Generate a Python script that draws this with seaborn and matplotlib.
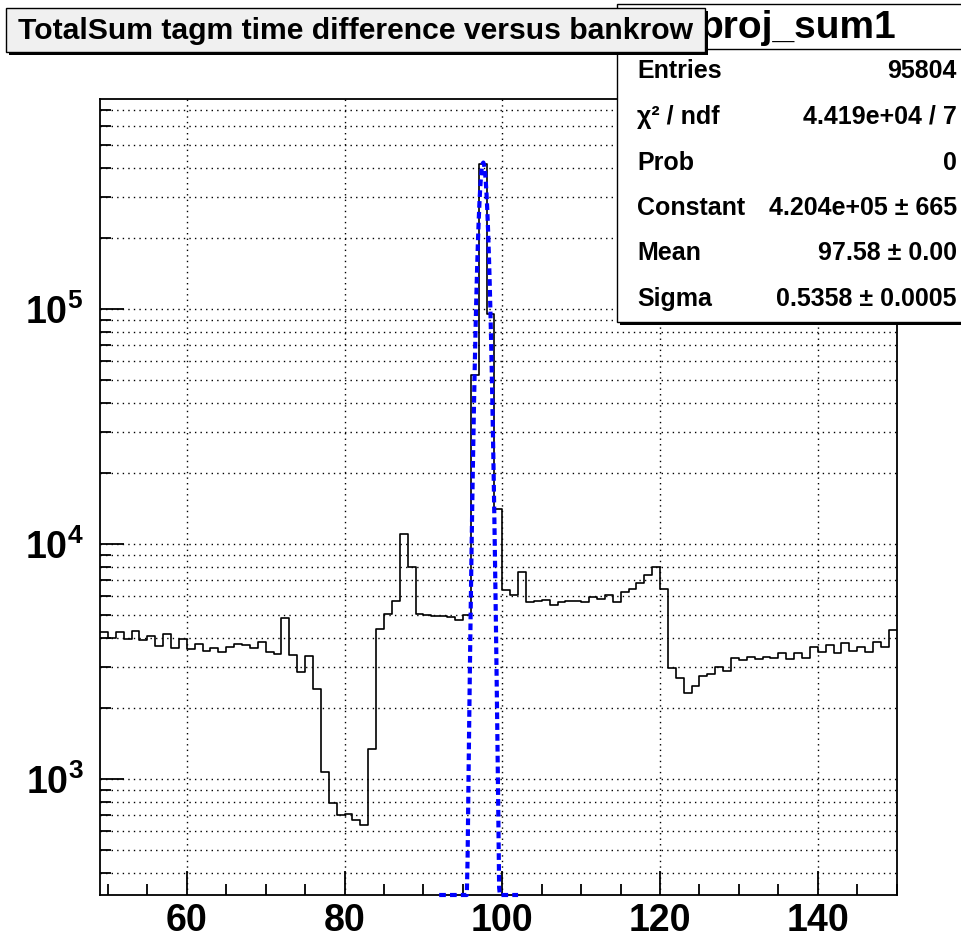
import matplotlib
matplotlib.use("Agg")
import matplotlib.pyplot as plt
from matplotlib.patches import Rectangle
from matplotlib.lines import Line2D
from matplotlib.ticker import LogLocator, MultipleLocator, FuncFormatter, NullFormatter
import numpy as np
import pandas as pd
import seaborn as sns

# histogram proj_sum1: 1-unit bins from 49 to 150
bin_low, bin_high = 49, 150
counts = [4240, 3980, 4240, 3930, 4280, 3900, 4060, 3690, 4140, 3600,
          3950, 3570, 3740, 3520, 3600, 3480, 3660, 3750, 3720, 3600,
          3820, 3460, 3400, 4850, 3370, 2860, 3350, 2410, 1070, 790,
          700, 710, 670, 640, 1340, 4350, 5040, 5700, 11000, 7950,
          5020, 4980, 4940, 4920, 4900, 4760, 4980, 52400, 413000, 95200,
          14100, 6350, 6080, 7610, 5640, 5720, 5780, 5500, 5690, 5700,
          5750, 5650, 5930, 5820, 6070, 5680, 6220, 6410, 6800, 7390,
          8000, 6410, 2980, 2680, 2330, 2490, 2740, 2800, 3010, 2890,
          3270, 3210, 3320, 3230, 3320, 3270, 3450, 3230, 3450, 3280,
          3630, 3460, 3720, 3430, 3780, 3520, 3660, 3460, 3820, 3660,
          4310]

# gaus fit shown in the stats box
fit_const, fit_mean, fit_sigma = 4.204e5, 97.58, 0.5358
fit_range = (92, 102)

stat_labels = ["Entries", "\u03c7\u00b2 / ndf", "Prob", "Constant", "Mean", "Sigma"]
stat_values = ["95804", "4.419e+04 / 7", "0", "4.204e+05 \u00b1 665",
               "97.58 \u00b1 0.00", "0.5358 \u00b1 0.0005"]
title = "TotalSum tagm time difference versus bankrow"
hist_name = "proj_sum1"

sns.set_theme(style="white")
plt.rcParams['font.family'] = ['Liberation Sans', 'DejaVu Sans']
plt.rcParams['font.weight'] = 'bold'
plt.rcParams['text.color'] = 'black'
plt.rcParams['mathtext.fontset'] = 'custom'
plt.rcParams['mathtext.rm'] = 'Liberation Sans:bold'
plt.rcParams['mathtext.bf'] = 'Liberation Sans:bold'

W, H = 962, 938
fig = plt.figure(figsize=(W / 100, H / 100), dpi=100, facecolor='white')
ax = fig.add_axes([100 / W, 1 - 895 / H, 796.7 / W, 796 / H])

df = pd.DataFrame({'x': np.arange(bin_low, bin_high) + 0.5, 'n': counts})
sns.histplot(data=df, x='x', weights='n', binwidth=1, binrange=(bin_low, bin_high),
             element='step', fill=False, color='black', linewidth=1.2, ax=ax)

ymin, ymax = 321, 7.83e5
xf = np.linspace(fit_range[0], fit_range[1], 101)
yf = fit_const * np.exp(-0.5 * ((xf - fit_mean) / fit_sigma) ** 2)
sns.lineplot(x=xf, y=np.clip(yf, ymin, None), ax=ax, color='blue', linewidth=3,
             linestyle=(0, (1.6, 1.0)), clip_on=False, zorder=5)

ax.set_yscale('log')
ax.set_xlim(bin_low, bin_high)
ax.set_ylim(ymin, ymax)
ax.set_xlabel('')
ax.set_ylabel('')

ax.xaxis.set_major_locator(MultipleLocator(20))
ax.xaxis.set_minor_locator(MultipleLocator(5))
ax.yaxis.set_major_locator(LogLocator(base=10))
ax.yaxis.set_minor_locator(LogLocator(base=10, subs=np.arange(2, 10)))
ax.yaxis.set_minor_formatter(NullFormatter())
ax.yaxis.set_major_formatter(FuncFormatter(lambda v, p: r'$\mathbf{10^{%d}}$' % round(np.log10(v))))

ax.grid(True, which='major', axis='both', color='black', linestyle=(0, (1, 3)), linewidth=1)
ax.grid(True, which='minor', axis='y', color='black', linestyle=(0, (1, 3)), linewidth=1)

ax.tick_params(axis='both', which='both', direction='in', top=False, right=False,
               bottom=True, left=True, colors='black', width=1.3)
ax.tick_params(axis='both', which='major', length=17, labelsize=27)
ax.tick_params(axis='both', which='minor', length=8)
ax.tick_params(axis='x', which='major', pad=6)
ax.tick_params(axis='y', which='major', pad=12)
for lab in ax.get_xticklabels():
    lab.set_fontweight('bold')
for sp in ax.spines.values():
    sp.set_color('black')
    sp.set_linewidth(1.3)


def box(x0, y0, x1, y1, **kw):
    fig.add_artist(Rectangle((x0 / W, 1 - y1 / H), (x1 - x0) / W, (y1 - y0) / H,
                             transform=fig.transFigure, **kw))


# stats box
box(620, 7, 972, 325, facecolor='black', edgecolor='none', zorder=4)
box(617, 4, 969, 322, facecolor='white', edgecolor='black', linewidth=1, zorder=5)
fig.add_artist(Line2D([617 / W, 1], [1 - 49 / H, 1 - 49 / H], transform=fig.transFigure,
                      color='black', linewidth=1, zorder=6))
fig.text(798 / W, 1 - 28 / H, hist_name, ha='center', va='center', fontsize=28,
         fontweight='bold', color='black', zorder=6)
for i, (lab, val) in enumerate(zip(stat_labels, stat_values)):
    yy = 1 - (71.5 + i * 45.5) / H
    fig.text(637 / W, yy, lab, ha='left', va='center', fontsize=18, fontweight='bold',
             color='black', zorder=6)
    fig.text(957 / W, yy, val, ha='right', va='center', fontsize=18, fontweight='bold',
             color='black', zorder=6)

# title box
box(9, 11, 708, 55, facecolor='black', edgecolor='none', zorder=7)
box(6, 8, 705, 52, facecolor='#f0f0f0', edgecolor='black', linewidth=1, zorder=8)
fig.text(356 / W, 1 - 31 / H, title, ha='center', va='center', fontsize=21.7,
         fontweight='bold', color='black', zorder=9)

fig.savefig('out.png', dpi=100, facecolor='white')
